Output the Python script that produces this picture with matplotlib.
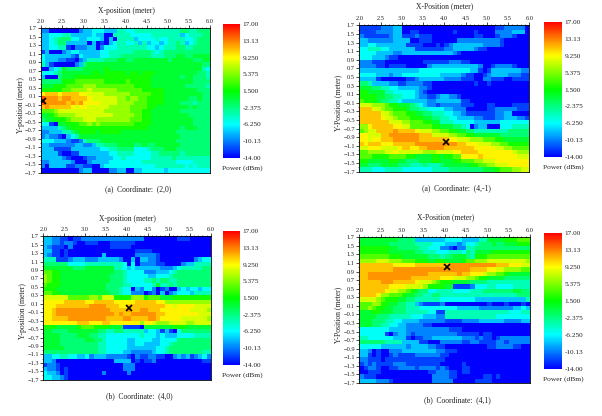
import matplotlib
matplotlib.use('Agg')
import numpy as np
import matplotlib.pyplot as plt
from matplotlib.colors import LinearSegmentedColormap
from matplotlib.ticker import MultipleLocator

plt.rcParams['font.family'] = ['Liberation Serif', 'DejaVu Serif']
plt.rcParams['text.color'] = '#222222'
plt.rcParams['axes.labelcolor'] = '#222222'
plt.rcParams['xtick.labelcolor'] = '#222222'
plt.rcParams['ytick.labelcolor'] = '#222222'

W, H = 602, 416

# one character per cell, index into dbm_levels
dbm_levels = [-14, -12, -10, -8, -6, -4, -2, 0, 2, 4, 6, 8, 9.5, 11, 12.5, 14.5]

rows_a = """
2200000002 3344433355 4455555555 5556655666
3344455333 3343300555 5444445555 5553455566
3345666443 3444303055 5534444544 5555445666
3345663333 3030103455 4453534434 5565345666
3344551022 2330244455 5555544345 5566556666
1300023443 3333445555 5566665456 6666666666
4333333214 3333445556 6666665556 6677667777
4333221102 3555566677 6677777777 6777776677
5310000023 6777777777 7777777777 7777777766
0034576666 7777787777 7777777777 7777777754
4445677777 7788788888 7887888777 7777777665
3000677788 8888888888 8888887777 7776776665
6666688899 9999988888 9888887777 7777776666
7778889999 aaa9999999 9988887777 7777666665
8888899aaa abaaaaaa99 9999888887 7777777666
cdddcddddc cbbbbaaaaa a999998887 7777777766
feeedeeddd dcbbbbbbaa 9aa9988887 7777766766
feeeeedede ccccbbbbaa aa99988887 7776665666
dedddddcbc cbbbbbaaaa a999988777 7777767666
999abbbbbb bbbbbaaaaa a999887777 7776666666
7789aaaabb bbbbbbbaaa aa99887777 7777766666
6778889aaa bbbaaaaaaa a999887777 7777776666
4410778889 9a9a999999 9988887777 7777776666
3333567888 8888888888 8888877777 7776777666
2233355678 8887888887 7777777777 7766666666
2322103457 7777777777 7777777777 7776666666
4443332112 5666777777 7777777777 7766666666
3322222233 2235566677 7766766777 7776666666
3331111333 3333445566 6644456667 7766666666
3333100113 3333334455 5544445566 6665666666
3333321000 1223333445 4444445555 5655555555
2233333200 0233334444 4444555555 5544445555
2033331122 1100344444 4444444555 5555454555
0000000002 3300002233 0033444443 4444444444
"""

rows_b = """
1111122233 0000000000 0000000000 0011222220
1111222233 0011000000 0010000100 0022223330
2111111233 1112111000 0000000110 0012221000
3322222233 3300111000 0002222222 2221000000
3344333333 3111100010 1233333332 2221000000
4455544333 3331111111 2233333211 0000000000
4444333322 3333333333 3321000000 0000000000
4443332110 0000000000 0000000000 0000000000
2221110000 0000011111 1222110000 0000000000
2222110111 1000002333 3333333320 0122221000
3333333333 3333444444 4444443310 1333333322
4444333233 4444444443 3333211001 2333322211
3333100000 0112333333 2222111002 2111001111
6653333221 1222211000 0000000100 1000000000
7776655443 3333221000 0000000000 0000000000
8877775544 4443210000 0000000000 0000000000
8888776655 4443221123 3221000000 0000000000
9888766554 3333332233 3333110000 0000000000
bbbaaa9887 7765432212 2222111000 1100001111
dddbba9988 8766554444 3322200000 1122222111
dddddbba99 9887766555 4433211111 1122330000
dddddcbba9 9988877665 5443333221 1122333221
dddddddbbb aa99988775 5544444333 3334444444
aacdddddcc bb99999887 7766540233 0004445555
9abbdddded dddcbbbaa9 9887766555 5555566666
ccbbbddeee eeeedddbbb baa9988777 7776666666
ccbccdddee eeeedddddd dccbbbaaa9 9988777777
dcdddcccdd dddeeeeeee eeeddcccbb baa9988888
bbcccbbbbc ddccddeeee dddddddccc ccbbaa9999
99aaaabbcb bbbbbaaabb bbccddddcc ccccccbaaa
9998888999 9887777887 8899ccccdc cccccccbbb
8877777887 7666777887 7788999aab bbcccccccc
7766677776 6655565556 7777778899 aabbbccccc
5554445555 4444444555 5666666667 778999aabb
"""

rows_c = """
3322110112 2222222222 2222000000 0011100000
3322122100 1110001111 1100000000 0000000000
3211102000 0000001111 1000000000 0000000000
3311010000 0000000000 0011110000 0000000000
3211010000 0000300000 0022222100 0000000000
5551112333 2223333320 0303322100 0000002344
6666664444 5555555554 0402222110 0002335555
7777777666 7777777554 3433333322 2345555566
9988777777 7777777665 4444222333 4566666666
a988777777 7777776665 4444433444 5666666666
a988777777 7777776665 4444556566 5566666666
9888777777 7777766665 5444445755 6566666666
8887777777 7777766654 4032442012 0034344344
9988777777 7777776654 4222012030 2344435555
bbbbbb9999 9aa9bbb888 8aaa899977 7888888888
cccccddddd ccdddddccc ccdddddcca aaaaaaaaaa
cccddddddd deeeedddcc dddddddddc cbccccbbbb
ccdeeeeeee eeeeeedddd eddeedddcc cccccbbbba
ccdeeeeeee eeeeeeeded deeeeeeddc cccccccbbb
ccddddeeee eeeeedddde eddddeedcc cccbbbbbba
ccccccccdd dcccddcccc cccaccbaaa bbbbaabbbb
8887777789 9988887771 1110777777 7888777777
7766667777 7776655665 5555344313 1046666666
7777666677 7665544444 4445444343 3344445555
7777666666 7766544444 3344443344 4466666666
7777666666 6665544444 3344333344 5666666666
7777766666 6665544444 3333333445 6666666666
6666666666 6665544443 3222223445 6666666655
3344554433 4233322222 1021122110 0232312342
3320000000 0000000333 3010112000 0000000011
1221000000 0000000002 2200000000 0000000000
3221010000 0000000002 2200000000 0000000000
4332010000 0000200000 2000000000 0000000000
4433210000 0000000000 0000000000 0000000000
"""

rows_d = """
7777777776 6663333333 4444333355 7777888999
7777777666 6665555444 3332344566 6766777888
8888888776 6666554442 2102255666 6666666666
8888888777 7776655544 4555465777 7888888888
9999999888 7777776665 6677765888 9999999999
aaaabbbaaa 9998887788 7777899aaa bbbbbbbbba
ddddddddcc cccddddddd deeeeeeeee eedddcccbb
ddddddddee eeeeeeeeee eeeeeedddd ccbbaaaa99
ddeeeeeeee eeeeeedddd dddeddcccb aa99877777
ddeeeeeeee eedddddddc ccbbbaa988 7777666666
dddddeeedd dddcbbba98 8877776666 5555555555
dddddddccc cbbbba8888 7711112444 5544445555
ddddddcbba a987664455 5544445556 6666667766
ddddcaa999 8776655665 5555555555 5555555666
bbbba98887 7665555554 4444444333 3333333335
999aa88776 6553211112 0000000000 1000100010
99a9887766 6555444444 4443333322 2222223343
7778877766 6555554411 5555555555 5555544455
7777666555 5544433322 5555555555 5544444444
7776665544 3333222222 1111222233 3333222233
7776655443 3222211000 0000000000 0000000000
4444444333 3222222222 2111000000 0000000000
4444441023 3212222222 2221111101 1000000000
5544444433 3101122333 3333222121 1012222222
6666665555 3333110002 2222112211 1122122222
4444433333 3233332211 0000000000 1122221100
3320100222 3333333322 1110000000 0000000000
3310100121 1112222221 1000000000 0000000000
2211101111 1111111111 0000000000 0000000000
1212111122 2111111110 0000100000 0000000000
0122100112 2221222212 1000110000 0000000000
0011100000 0000001122 2110110000 0000000000
2111000000 0000000222 2110000001 1010000000
3333222100 0000000222 2200000111 1000000000
"""

x_edges = np.arange(2.0, 6.01, 0.1)
y_edges = np.arange(1.7, -1.71, -0.1)
bar_labels = ['17.00', '13.13', '9.250', '5.375', '1.500', '-2.375', '-6.250', '-10.13', '-14.00']
bar_ticks = [17, 13.125, 9.25, 5.375, 1.5, -2.375, -6.25, -10.125, -14]
captions = ['(a)  Coordinate:  (2,0)', '(a)  Coordinate:  (4,-1)', '(b)  Coordinate:  (4,0)', '(b)  Coordinate:  (4,1)']
x_names = ['X-position (meter)', 'X-Position (meter)', 'X-position (meter)', 'X-Position (meter)']
y_names = ['Y-position (meter)', 'Y-Position (meter)', 'Y-position (meter)', 'Y-Position (meter)']
cross_x = [2.05, 4.05, 4.05, 4.05]
cross_y = [0.0, -1.0, 0.0, 1.0]

# left, top, right, bottom in pixels of the picture
ax_boxes = [(41, 28.3, 210, 172.7), (359.3, 25.3, 529.3, 171.7), (43.3, 236.3, 210.7, 379.7), (359.3, 237.3, 530, 383)]
bar_boxes = [(223.3, 24, 240, 158), (544.3, 21.7, 561.7, 157.3), (223.3, 231.3, 240, 364.7), (544.3, 232.7, 561.7, 368.7)]
caption_pos = [(138, 189.5), (456, 188.5), (139, 396), (457, 400)]
xlabel_pos = [(126.5, 11), (445, 6), (127, 219), (445.5, 217.5)]
ylabel_pos = [(21, 105.5), (338, 103), (23, 311), (338, 315)]

cmap = LinearSegmentedColormap.from_list('power', ['#0000ff', '#00ffff', '#00ff00', '#ffff00', '#ff0000'])


def read_rows(text):
    grid = [[dbm_levels[int(c, 16)] for c in line.replace(' ', '')] for line in text.split('\n') if line]
    assert all(len(r) == 40 for r in grid) and len(grid) == 34
    return np.array(grid)


def make_axes(fig, box):
    left, top, right, bottom = box
    return fig.add_axes([left / W, 1 - bottom / H, (right - left) / W, (bottom - top) / H])


def put_text(fig, pos, s, size, **kw):
    fig.text(pos[0] / W, 1 - pos[1] / H, s, fontsize=size, va='center', **kw)


def draw_panel(fig, i, rows):
    ax = make_axes(fig, ax_boxes[i])
    mesh = ax.pcolormesh(x_edges, y_edges, read_rows(rows), cmap=cmap, vmin=-14, vmax=17, linewidth=0, rasterized=True)
    ax.plot(cross_x[i], cross_y[i], marker='x', color='black', markersize=5, markeredgewidth=1.2)
    ax.set_xlim(2, 6)
    ax.set_ylim(-1.7, 1.7)

    ax.xaxis.tick_top()
    ax.xaxis.set_major_locator(MultipleLocator(0.5))
    ax.xaxis.set_minor_locator(MultipleLocator(0.1))
    ax.set_yticks(np.arange(-1.7, 1.71, 0.2))
    ax.yaxis.set_minor_locator(MultipleLocator(0.1))
    ax.xaxis.set_major_formatter('{x:.1f}')
    ax.yaxis.set_major_formatter('{x:.1f}')
    ax.tick_params(which='major', labelsize=4.6, length=2, width=0.5, pad=1.2)
    ax.tick_params(which='minor', length=1, width=0.4)
    for s in ax.spines.values():
        s.set_linewidth(0.6)
    put_text(fig, xlabel_pos[i], x_names[i], 5.5, ha='center')
    put_text(fig, ylabel_pos[i], y_names[i], 5.5, ha='center', rotation=90)

    cax = make_axes(fig, bar_boxes[i])
    cb = fig.colorbar(mesh, cax=cax)
    cb.outline.set_visible(False)
    cb.set_ticks(bar_ticks, labels=bar_labels)
    cax.tick_params(length=0, labelsize=5.2, pad=2)
    left, top, right, bottom = bar_boxes[i]
    put_text(fig, (left - 1, bottom + 10), 'Power (dBm)', 5.4, ha='left')
    put_text(fig, caption_pos[i], captions[i], 5.5, ha='center')


fig = plt.figure(figsize=(W / 100, H / 100), dpi=100)
for i, rows in enumerate([rows_a, rows_b, rows_c, rows_d]):
    draw_panel(fig, i, rows)

fig.savefig('out.png', dpi=100)
